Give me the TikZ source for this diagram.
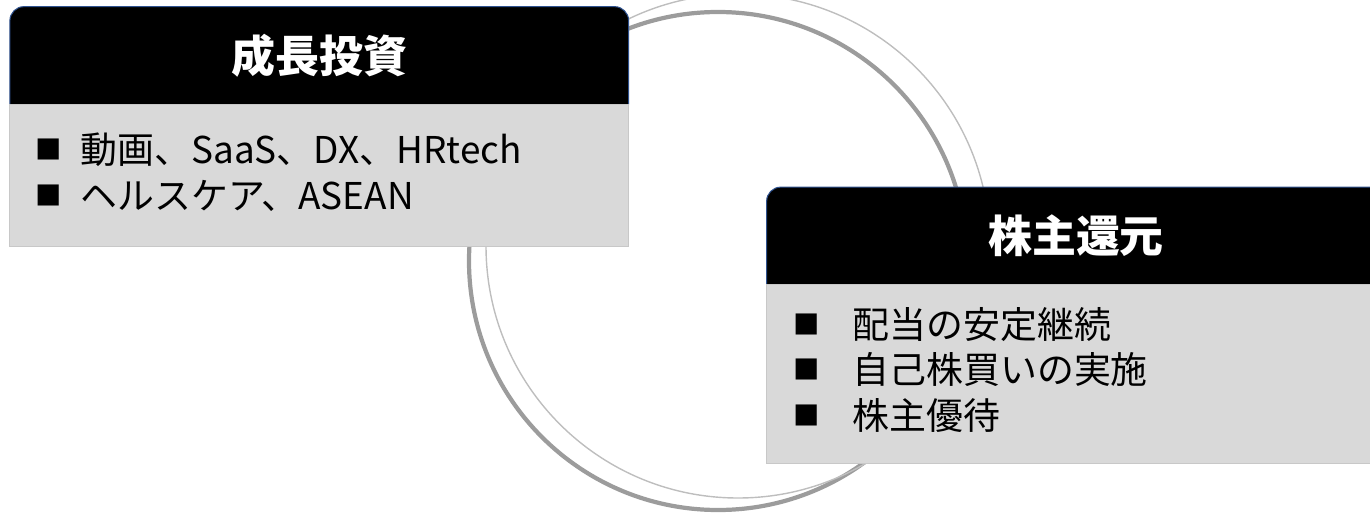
\documentclass[tikz,border=0pt]{standalone}
\usepackage{fontspec}
\setmainfont{Noto Sans CJK JP}
\usetikzlibrary{positioning}
\usetikzlibrary{backgrounds}
\definecolor{ringdark}{HTML}{9C9C9C}
\definecolor{ringlight}{HTML}{BEBEBE}
\definecolor{headline}{HTML}{2F528F}
\definecolor{bodygray}{HTML}{D9D9D9}
\definecolor{bodyline}{HTML}{C8C8C8}
\newcommand\sqbullet{\raisebox{2.3pt}{\fontsize{15}{15}\selectfont ■}}
\tikzset{
    headbox/.style = {rectangle, inner sep=0pt, minimum width=12.36cm, minimum height=1.94cm, text=white, font=\bfseries\fontsize{25}{30}\selectfont},
    bodybox/.style = {rectangle, inner sep=0pt, minimum width=12.36cm},
    itemtext/.style = {align=left, inner sep=0pt, anchor=west, font=\fontsize{21}{26}\selectfont},
    headpaint/.style = {fill=black, draw=headline, line width=0.6pt, rounded corners=0.28cm},
    bodypaint/.style = {fill=bodygray, draw=bodyline, line width=0.6pt},
    ringthick/.style = {draw=ringdark, line width=2.4pt},
    ringthin/.style = {draw=ringlight, line width=0.8pt}
}

\begin{document}
\begin{tikzpicture}
\useasboundingbox (0,0) rectangle (27.4,10.24);
%
\node[headbox] at (6.385, 9.13) (inv) {成長投資};
\node[bodybox, minimum height=2.82cm, below=0pt of inv] (invb) {};
\node[itemtext] at (0.70, 6.8) (invt) {\sqbullet\hspace{10.8pt}動画、SaaS、DX、HRtech\\\sqbullet\hspace{10.8pt}ヘルスケア、ASEAN};
%
\node[headbox] at (21.52, 5.52) (ret) {株主還元};
\node[bodybox, minimum height=3.56cm, below=0pt of ret] (retb) {};
\node[itemtext] at (15.86, 2.84) (rett) {\sqbullet\hspace{18.7pt}配当の安定継続\\\sqbullet\hspace{18.7pt}自己株買いの実施\\\sqbullet\hspace{18.7pt}株主優待};
%
\begin{scope}[on background layer]
\draw[ringthick] (14.36, 5.02) circle (4.98);
\draw[ringthin] (14.76, 5.32) circle (5.04);
\path[headpaint] (inv.south west) -- (inv.north west) -- (inv.north east) -- (inv.south east);
\path[bodypaint] (invb.south west) rectangle (invb.north east);
\path[headpaint] (ret.south west) -- (ret.north west) -- (ret.north east) -- (ret.south east);
\path[bodypaint] (retb.south west) rectangle (retb.north east);
\end{scope}

\end{tikzpicture}
\end{document}
